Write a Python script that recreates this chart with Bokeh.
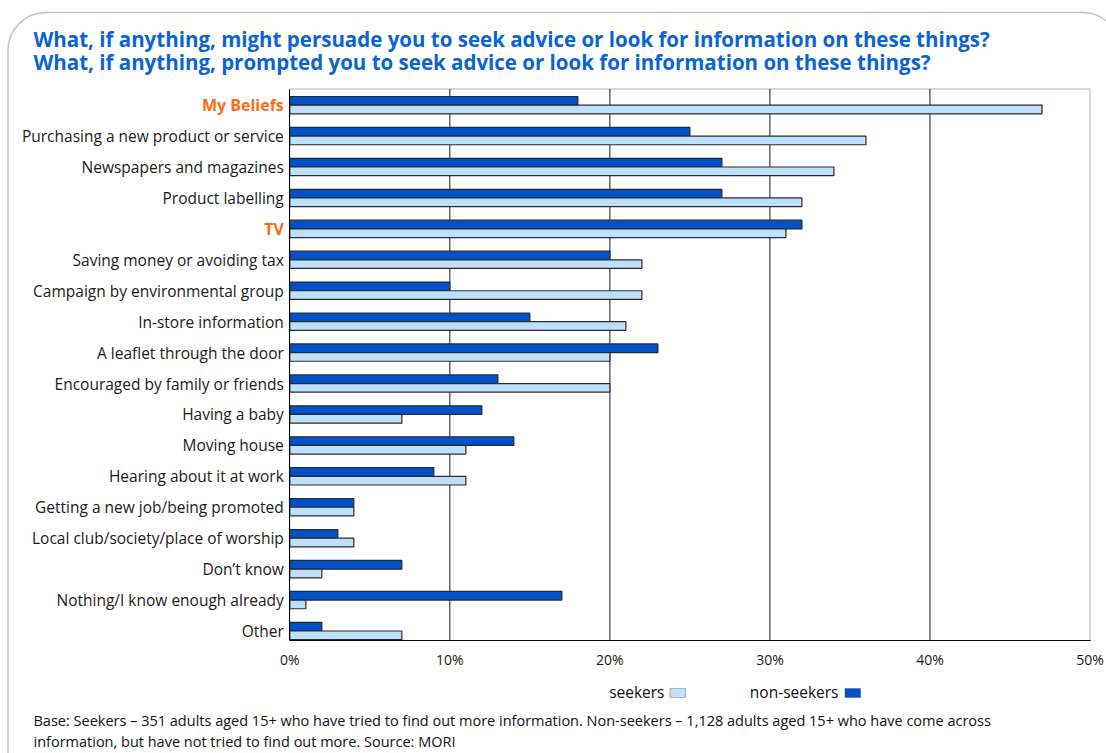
from bokeh.plotting import figure
from bokeh.models import (ColumnDataSource, Range1d, FixedTicker, PrintfTickFormatter,
                          Label, LabelSet, BoxAnnotation)
from bokeh.core.properties import value
from bokeh.transform import dodge
from bokeh.embed import file_html
from bokeh.resources import INLINE

# ---------------- data ----------------
categories = [
    "My Beliefs",
    "Purchasing a new product or service",
    "Newspapers and magazines",
    "Product labelling",
    "TV",
    "Saving money or avoiding tax",
    "Campaign by environmental group",
    "In-store information",
    "A leaflet through the door",
    "Encouraged by family or friends",
    "Having a baby",
    "Moving house",
    "Hearing about it at work",
    "Getting a new job/being promoted",
    "Local club/society/place of worship",
    "Don\u2019t know",
    "Nothing/I know enough already",
    "Other",
]
seekers = [47, 36, 34, 32, 31, 22, 22, 21, 20, 20, 7, 11, 11, 4, 4, 2, 1, 7]
non_seekers = [18, 25, 27, 27, 32, 20, 10, 15, 23, 13, 12, 14, 9, 4, 3, 7, 17, 2]
highlighted = ["My Beliefs", "TV"]
x_ticks = [0, 10, 20, 30, 40, 50]
series_names = ["seekers", "non-seekers"]

title_lines = [
    "What, if anything, might persuade you to seek advice or look for information on these things?",
    "What, if anything, prompted you to seek advice or look for information on these things?",
]
footnote_lines = [
    "Base: Seekers \u2013 351 adults aged 15+ who have tried to find out more information. Non-seekers \u2013 1,128 adults aged 15+ who have come across",
    "information, but have not tried to find out more. Source: MORI",
]

# ---------------- style / layout ----------------
DARK = "#0052CC"
LIGHT = "#BEE0FF"
EDGE = "#2a2a2a"
TITLE_BLUE = "#0A64D2"
ORANGE = "#FF6A13"
FONT = "Open Sans"

W, H = 1106, 753
X0_PX, X50_PX = 289.3, 1089.5          # pixel positions of 0% and 50%
TOP_CENTER_PX, BOT_CENTER_PX = 104.65, 630.5   # first / last category centres
PLOT_TOP_PX, PLOT_BOT_PX = 88.5, 640.0

n = len(categories)
pos = [n - 1 - i for i in range(n)]  # top category highest
xmax = x_ticks[-1]

sx = (X50_PX - X0_PX) / xmax                     # px per %
sy = (BOT_CENTER_PX - TOP_CENTER_PX) / (n - 1)   # px per category


def px_x(px):
    return (px - X0_PX) / sx


def px_y(py):
    return (n - 1) - (py - TOP_CENTER_PX) / sy


y_top, y_bot = px_y(PLOT_TOP_PX), px_y(PLOT_BOT_PX)

src = ColumnDataSource(dict(cat=categories, pos=pos, seekers=seekers, non_seekers=non_seekers))

p = figure(width=W, height=H, output_backend="svg", toolbar_location=None,
           x_range=Range1d(px_x(0), px_x(W)), y_range=Range1d(px_y(H), px_y(0)),
           min_border=0)
p.outline_line_color = None
p.xgrid.visible = False
p.ygrid.visible = False

# outer rounded frame
p.add_layout(BoxAnnotation(left=px_x(7.5), right=px_x(1120), top=px_y(12), bottom=px_y(820),
                           fill_alpha=0, line_color="#3a3a3a", line_width=1.5,
                           border_radius=38, level="underlay"))

# plot area box and grid lines
p.add_layout(BoxAnnotation(left=0, right=xmax, top=y_top, bottom=y_bot,
                           fill_alpha=0, line_color="black", line_width=1, level="underlay"))
inner = x_ticks[1:-1]
p.segment(x0=inner, x1=inner, y0=[y_bot] * len(inner), y1=[y_top] * len(inner),
          line_color="#1a1a1a", line_width=1)

bh = 0.28
p.hbar(y=dodge("pos", bh / 2, range=p.y_range), right="non_seekers", left=0, height=bh,
       source=src, fill_color=DARK, line_color=EDGE, line_width=1.2)
p.hbar(y=dodge("pos", -bh / 2, range=p.y_range), right="seekers", left=0, height=bh,
       source=src, fill_color=LIGHT, line_color=EDGE, line_width=1.2)

# x axis
xa = p.xaxis[0]
xa.fixed_location = y_bot
xa.bounds = (0, xmax)
xa.ticker = FixedTicker(ticks=x_ticks)
xa.formatter = PrintfTickFormatter(format="%d%%")
xa.axis_line_color = "black"
xa.major_tick_out = 0
xa.major_tick_in = 0
xa.minor_tick_out = 0
xa.minor_tick_in = 0
xa.major_label_standoff = 9
xa.major_label_text_font = FONT
xa.major_label_text_font_size = "14px"
xa.major_label_text_color = "#1a1a1a"

# y axis
ya = p.yaxis[0]
ya.fixed_location = 0
ya.bounds = (y_bot, y_top)
ya.ticker = FixedTicker(ticks=pos)
ya.major_label_overrides = {pv: ("" if c in highlighted else c) for pv, c in zip(pos, categories)}
ya.axis_line_color = "black"
ya.major_tick_out = 0
ya.major_tick_in = 0
ya.minor_tick_out = 0
ya.minor_tick_in = 0
ya.major_label_standoff = 6
ya.major_label_text_font = FONT
ya.major_label_text_font_size = "15.5px"
ya.major_label_text_color = "#1a1a1a"

# highlighted category labels
hl_src = ColumnDataSource(dict(
    x=[0] * len(highlighted),
    y=[pos[categories.index(c)] for c in highlighted],
    text=highlighted))
p.add_layout(LabelSet(x="x", y="y", text="text", source=hl_src, x_offset=-6,
                      text_align="right", text_baseline="middle",
                      text_font=value(FONT), text_font_size=value("16px"),
                      text_font_style=value("bold"), text_color=value(ORANGE)))


def lab(text, x_px, y_px, size, color, style="normal", align="left"):
    p.add_layout(Label(x=px_x(x_px), y=px_y(y_px), text=text,
                       text_font=FONT, text_font_size=size, text_color=color,
                       text_font_style=style, text_align=align, text_baseline="middle"))


# title
lab(title_lines[0], 33, 38, "20.5px", TITLE_BLUE, "bold")
lab(title_lines[1], 33, 61, "20.5px", TITLE_BLUE, "bold")

# footnote
lab(footnote_lines[0], 33, 720, "14.5px", "#111111")
lab(footnote_lines[1], 33, 741, "14.5px", "#111111")

# legend (text followed by swatch)
lab(series_names[0], 664, 691, "15.5px", "#111111", align="right")
p.add_layout(BoxAnnotation(left=px_x(669.5), right=px_x(685), top=px_y(688), bottom=px_y(697),
                           fill_color=LIGHT, fill_alpha=1, line_color=EDGE, line_width=1.2))
lab(series_names[1], 838, 691, "15.5px", "#111111", align="right")
p.add_layout(BoxAnnotation(left=px_x(844.5), right=px_x(860), top=px_y(688), bottom=px_y(697),
                           fill_color=DARK, fill_alpha=1, line_color=EDGE, line_width=1.2))

open("out.html", "w").write(file_html(p, INLINE))
